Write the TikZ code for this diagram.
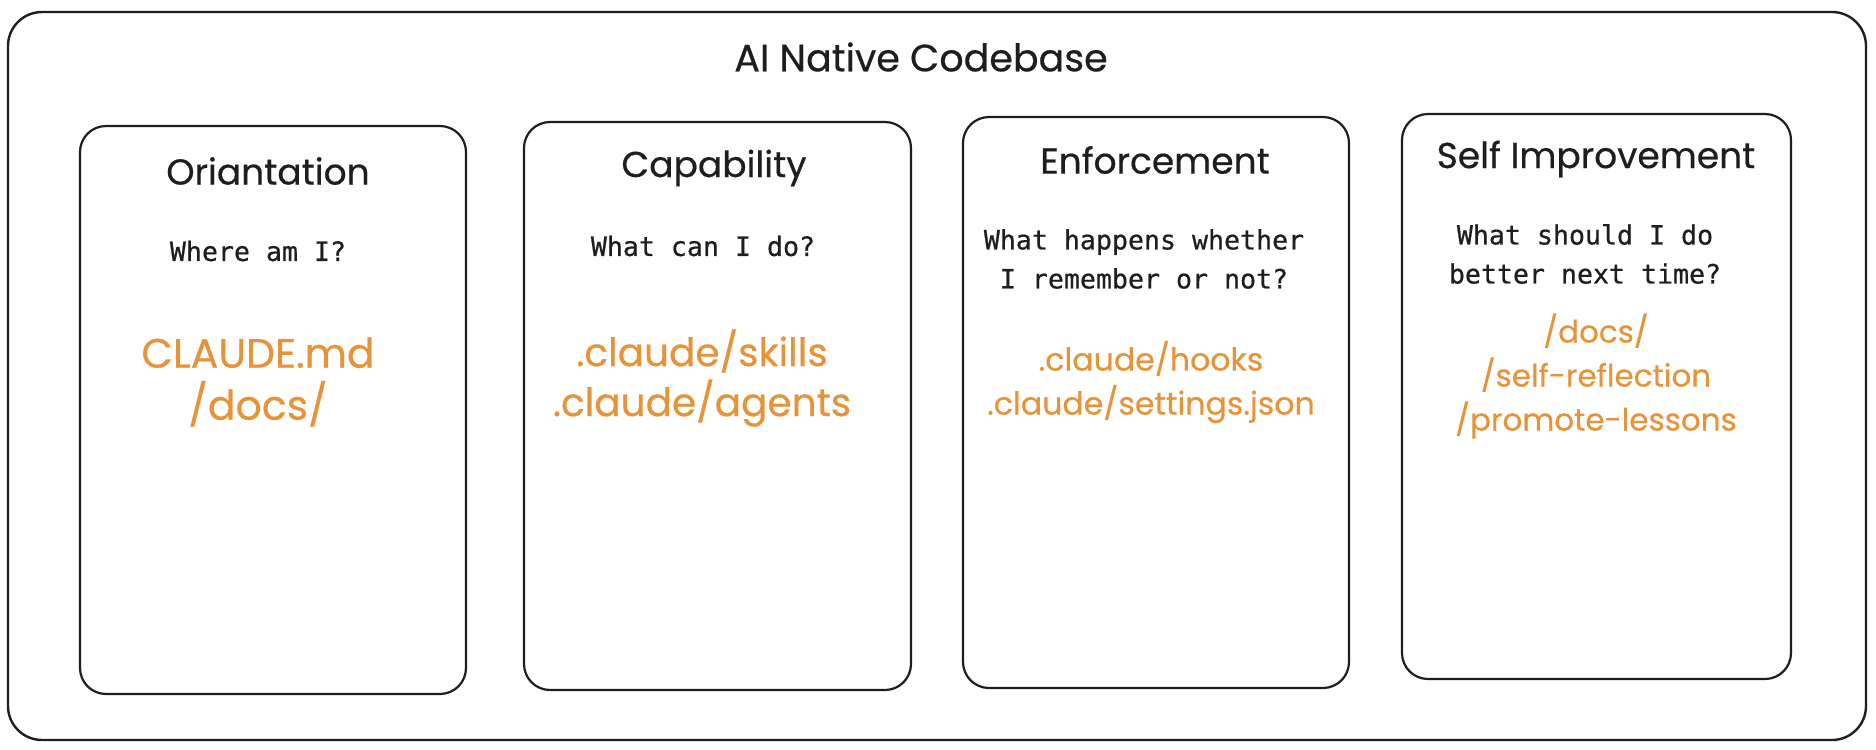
\documentclass[tikz,border=0pt]{standalone}
\usepackage{fontspec}
\usepackage{xcolor}
\usepackage{tikz}
\usetikzlibrary{positioning,calc}
\newfontfamily\handfont[FakeBold=0.5]{Poppins}
\newfontfamily\codefont[FakeBold=0.6]{DejaVu Sans Mono}
\definecolor{pathorange}{RGB}{230,148,58}
\definecolor{inkblack}{RGB}{30,30,30}

\begin{document}
\begin{tikzpicture}[line cap=round,line join=round,x=0.5pt,y=-0.5pt,
  frame/.style={draw=inkblack,line width=1.2pt,rounded corners=17pt},
  card/.style={draw=inkblack,line width=1.1pt,rounded corners=13pt},
  cardtitle/.style={text=inkblack,font=\handfont\fontsize{18}{21}\selectfont,inner sep=0pt},
  question/.style={text=inkblack,font=\codefont\fontsize{13.3}{19.5}\selectfont,align=center,inner sep=0pt},
  paths/.style={text=pathorange,align=center,inner sep=0pt}]
\useasboundingbox (0,0) rectangle (1876,750);
\draw[frame] (8,12) rectangle (1866,740);
\node[cardtitle,font=\handfont\fontsize{19}{22}\selectfont] (codebase) at (921,57) {AI Native Codebase};
% the four cards
\draw[card] (80,126) rectangle (466,694);
\draw[card] (524,122) rectangle (911,690);
\draw[card] (963,117) rectangle (1349,688);
\draw[card] (1402,114) rectangle (1791,679);
% Oriantation
\node[cardtitle] (orient) at (268,171) {Oriantation};
\node[question] (orientq) at (258,251) {Where am I?};
\node[paths,font=\handfont\fontsize{20.5}{26}\selectfont] (orientp) at (258,382) {CLAUDE.md\\/docs/};
% Capability
\node[cardtitle] (capab) at (714,168) {Capability};
\node[question] (capabq) at (703,246) {What can I do?};
\node[paths,font=\handfont\fontsize{19.5}{25}\selectfont] (capabp) at (702,378) {.claude/skills\\.claude/agents};
% Enforcement
\node[cardtitle] (enforce) at (1155,160) {Enforcement};
\node[question] (enforceq) at (1144,259) {What happens whether\\I remember or not?};
\node[paths,font=\handfont\fontsize{15.8}{22}\selectfont] (enforcep) at (1151,382) {.claude/hooks\\.claude/settings.json};
% Self Improvement
\node[cardtitle] (selfimp) at (1596,159) {Self Improvement};
\node[question] (selfimpq) at (1585,254) {What should I do\\better next time?};
\node[paths,font=\handfont\fontsize{15.5}{22}\selectfont] (selfimpp) at (1596,376) {/docs/\\/self-reflection\\/promote-lessons};
\end{tikzpicture}
\end{document}
